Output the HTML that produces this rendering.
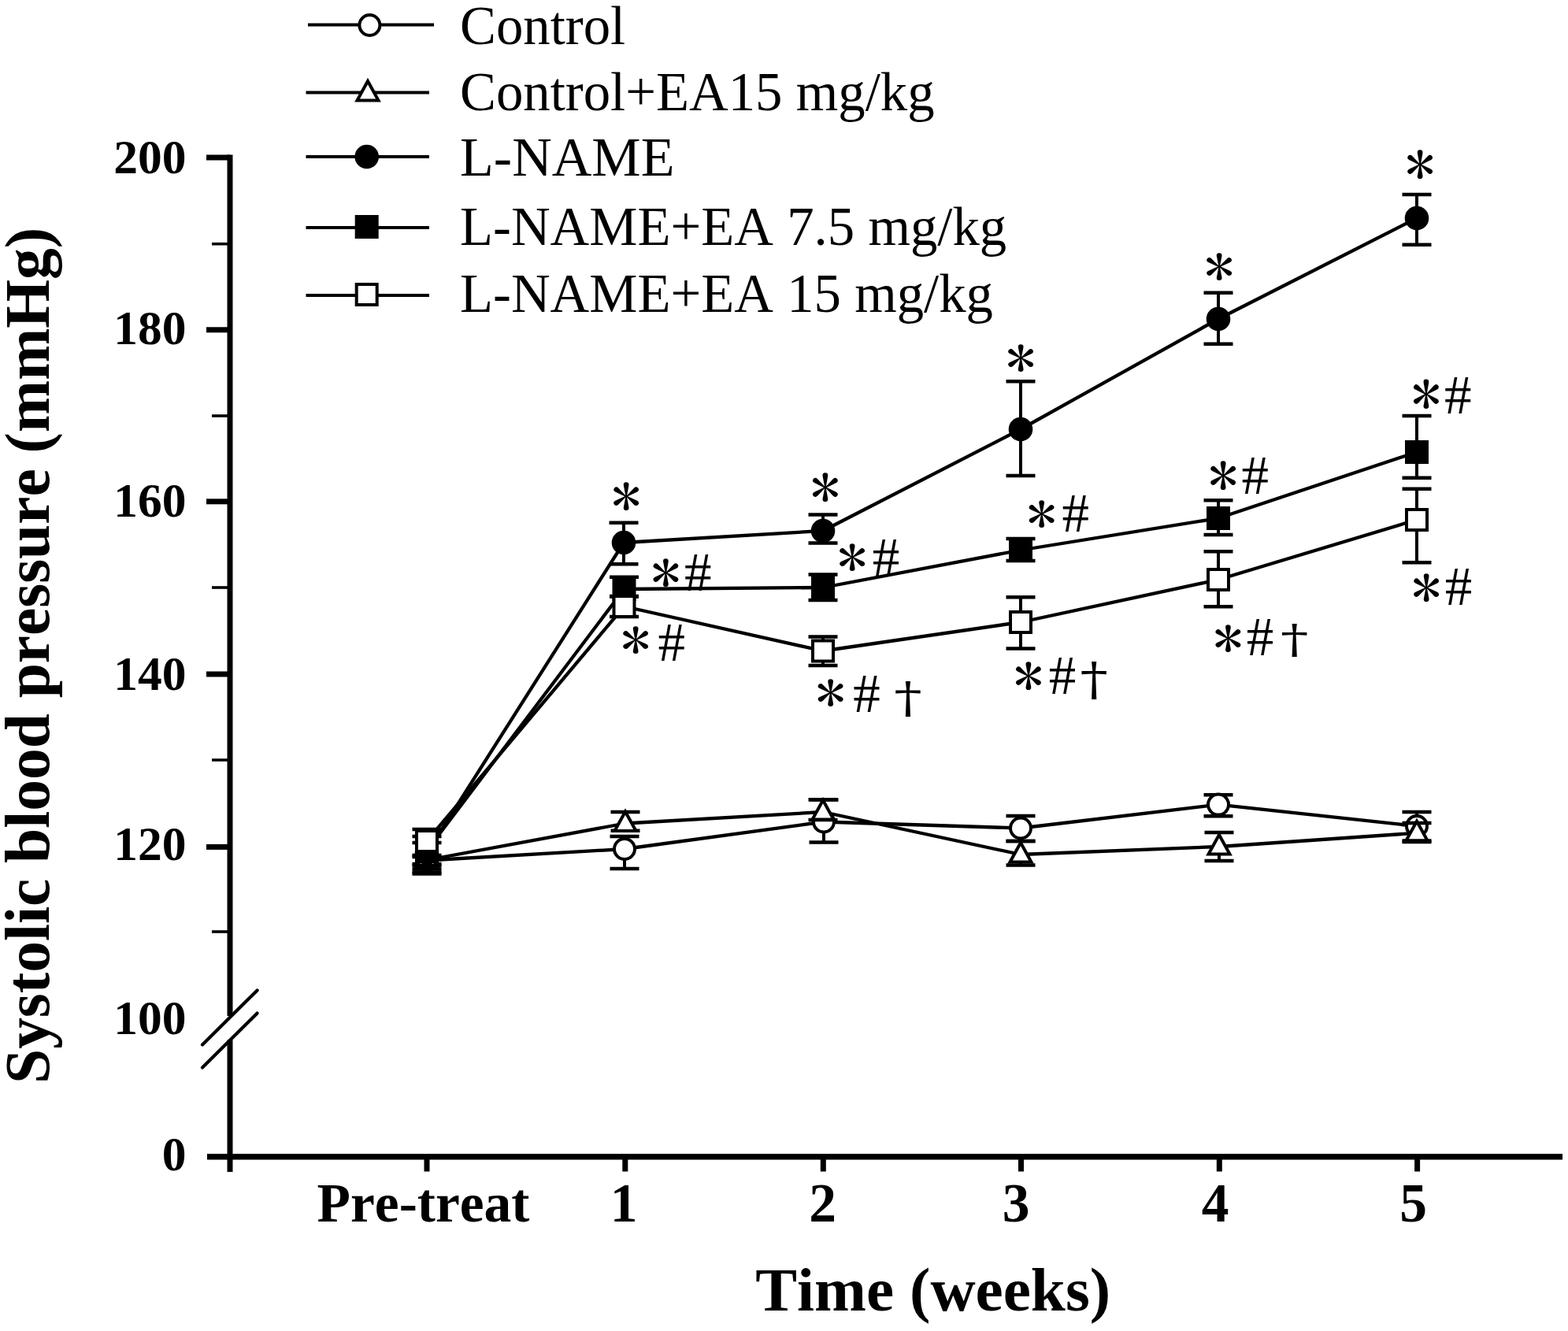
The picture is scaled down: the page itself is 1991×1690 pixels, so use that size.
<!DOCTYPE html>
<html><head><meta charset="utf-8"><title>Systolic blood pressure</title>
<style>
html,body{margin:0;padding:0;background:#fff;}
svg{display:block;}
text{font-family:"Liberation Serif","Times New Roman",serif;fill:#000;font-kerning:none;}
.b{font-weight:bold;}
.ast{font-family:"IPAGothic","Liberation Sans",sans-serif;}
.dag{font-family:"DejaVu Serif",serif;}
</style></head><body>
<svg width="1991" height="1690" viewBox="0 0 1991 1690">
<rect width="1991" height="1690" fill="#fff"/>

<g stroke="#000" fill="none">
<line x1="292" y1="196.5" x2="292" y2="1290" stroke-width="7"/>
<line x1="292" y1="1320.5" x2="292" y2="1488" stroke-width="7"/>
<line x1="263" y1="1468.8" x2="1984" y2="1468.8" stroke-width="7.5"/>
<line x1="257" y1="1326.6" x2="326.6" y2="1257.4" stroke-width="4.2" stroke-linecap="round"/>
<line x1="257" y1="1355.6" x2="326.6" y2="1286.4" stroke-width="4.2" stroke-linecap="round"/>
<line x1="262" y1="200" x2="292" y2="200" stroke-width="7"/>
<line x1="262" y1="418.8" x2="292" y2="418.8" stroke-width="7"/>
<line x1="262" y1="636.8" x2="292" y2="636.8" stroke-width="7"/>
<line x1="262" y1="856" x2="292" y2="856" stroke-width="7"/>
<line x1="262" y1="1075.4" x2="292" y2="1075.4" stroke-width="7"/>
<line x1="269" y1="309.7" x2="292" y2="309.7" stroke-width="3.6"/>
<line x1="269" y1="528" x2="292" y2="528" stroke-width="3.6"/>
<line x1="269" y1="746" x2="292" y2="746" stroke-width="3.6"/>
<line x1="269" y1="965" x2="292" y2="965" stroke-width="3.6"/>
<line x1="269" y1="1183" x2="292" y2="1183" stroke-width="3.6"/>
<line x1="542" y1="1468.8" x2="542" y2="1487.5" stroke-width="7"/>
<line x1="793.8" y1="1468.8" x2="793.8" y2="1487.5" stroke-width="7"/>
<line x1="1045.3" y1="1468.8" x2="1045.3" y2="1487.5" stroke-width="7"/>
<line x1="1296.5" y1="1468.8" x2="1296.5" y2="1487.5" stroke-width="7"/>
<line x1="1548.3" y1="1468.8" x2="1548.3" y2="1487.5" stroke-width="7"/>
<line x1="1799.6" y1="1468.8" x2="1799.6" y2="1487.5" stroke-width="7"/>
</g>
<g class="b" font-size="61.5" text-anchor="end">
<text x="236.5" y="219.5">200</text>
<text x="236.5" y="436.8">180</text>
<text x="236.5" y="656.3">160</text>
<text x="236.5" y="875.5">140</text>
<text x="236.5" y="1092.4">120</text>
<text x="236.5" y="1312.5">100</text>
<text x="236.5" y="1486">0</text>
</g>
<g class="b" font-size="69.5" text-anchor="middle">
<text x="537.5" y="1551.3">Pre-treat</text>
<text x="792" y="1551.3">1</text>
<text x="1044.5" y="1551.3">2</text>
<text x="1290" y="1551.3">3</text>
<text x="1543" y="1551.3">4</text>
<text x="1794.5" y="1551.3">5</text>
</g>
<text class="b" font-size="79.2" x="959.3" y="1663.5">Time (weeks)</text>
<text class="b" font-size="79.4" transform="translate(61.5,1376) rotate(-90)">Systolic blood pressure (mmHg)</text>
<polyline points="542,1092.5 793,1078 1046,1043.5 1296,1051.5 1547,1021.6 1799,1049" fill="none" stroke="#000" stroke-width="4.3" stroke-linejoin="round"/>
<polyline points="542,1092 794,1045.5 1045,1031 1296,1085 1548,1075 1799,1057.7" fill="none" stroke="#000" stroke-width="4.3" stroke-linejoin="round"/>
<polyline points="542,1083 792,689 1045,674 1296,545 1547,405 1799,277" fill="none" stroke="#000" stroke-width="4.3" stroke-linejoin="round"/>
<polyline points="542,1080 792.5,748 1045,746 1296,698.5 1547,658 1799,574" fill="none" stroke="#000" stroke-width="4.3" stroke-linejoin="round"/>
<polyline points="542,1068 792.5,770 1045,826.5 1296,790 1547,736 1799,660" fill="none" stroke="#000" stroke-width="4.3" stroke-linejoin="round"/>
<g>
<line x1="542" y1="1086" x2="542" y2="1109.5" stroke="#000" stroke-width="4"/><line x1="523.5" y1="1086" x2="560.5" y2="1086" stroke="#000" stroke-width="4.5"/><line x1="523.5" y1="1109.5" x2="560.5" y2="1109.5" stroke="#000" stroke-width="4.5"/>
<line x1="793" y1="1062" x2="793" y2="1103" stroke="#000" stroke-width="4"/><line x1="774.5" y1="1062" x2="811.5" y2="1062" stroke="#000" stroke-width="4.5"/><line x1="774.5" y1="1103" x2="811.5" y2="1103" stroke="#000" stroke-width="4.5"/>
<line x1="1046" y1="1015.5" x2="1046" y2="1069.6" stroke="#000" stroke-width="4"/><line x1="1027.5" y1="1015.5" x2="1064.5" y2="1015.5" stroke="#000" stroke-width="4.5"/><line x1="1027.5" y1="1069.6" x2="1064.5" y2="1069.6" stroke="#000" stroke-width="4.5"/>
<line x1="1296" y1="1035.9" x2="1296" y2="1067.9" stroke="#000" stroke-width="4"/><line x1="1277.5" y1="1035.9" x2="1314.5" y2="1035.9" stroke="#000" stroke-width="4.5"/><line x1="1277.5" y1="1067.9" x2="1314.5" y2="1067.9" stroke="#000" stroke-width="4.5"/>
<line x1="1547" y1="1009.2" x2="1547" y2="1036.2" stroke="#000" stroke-width="4"/><line x1="1528.5" y1="1009.2" x2="1565.5" y2="1009.2" stroke="#000" stroke-width="4.5"/><line x1="1528.5" y1="1036.2" x2="1565.5" y2="1036.2" stroke="#000" stroke-width="4.5"/>
<line x1="1799" y1="1031" x2="1799" y2="1067.5" stroke="#000" stroke-width="4"/><line x1="1780.5" y1="1031" x2="1817.5" y2="1031" stroke="#000" stroke-width="4.5"/><line x1="1780.5" y1="1067.5" x2="1817.5" y2="1067.5" stroke="#000" stroke-width="4.5"/>
<circle cx="542" cy="1092.5" r="13" fill="#fff" stroke="#000" stroke-width="4"/>
<circle cx="793" cy="1078" r="13" fill="#fff" stroke="#000" stroke-width="4"/>
<circle cx="1046" cy="1043.5" r="13" fill="#fff" stroke="#000" stroke-width="4"/>
<circle cx="1296" cy="1051.5" r="13" fill="#fff" stroke="#000" stroke-width="4"/>
<circle cx="1547" cy="1021.6" r="13" fill="#fff" stroke="#000" stroke-width="4"/>
<circle cx="1799" cy="1049" r="13" fill="#fff" stroke="#000" stroke-width="4"/>
</g>
<g>
<line x1="542" y1="1088" x2="542" y2="1097" stroke="#000" stroke-width="4"/><line x1="523.5" y1="1088" x2="560.5" y2="1088" stroke="#000" stroke-width="4.5"/><line x1="523.5" y1="1097" x2="560.5" y2="1097" stroke="#000" stroke-width="4.5"/>
<line x1="794" y1="1031" x2="794" y2="1054.7" stroke="#000" stroke-width="4"/><line x1="775.5" y1="1031" x2="812.5" y2="1031" stroke="#000" stroke-width="4.5"/><line x1="775.5" y1="1054.7" x2="812.5" y2="1054.7" stroke="#000" stroke-width="4.5"/>
<line x1="1045" y1="1015.3" x2="1045" y2="1041" stroke="#000" stroke-width="4"/><line x1="1026.5" y1="1015.3" x2="1063.5" y2="1015.3" stroke="#000" stroke-width="4.5"/><line x1="1026.5" y1="1041" x2="1063.5" y2="1041" stroke="#000" stroke-width="4.5"/>
<line x1="1296" y1="1068" x2="1296" y2="1098.5" stroke="#000" stroke-width="4"/><line x1="1277.5" y1="1068" x2="1314.5" y2="1068" stroke="#000" stroke-width="4.5"/><line x1="1277.5" y1="1098.5" x2="1314.5" y2="1098.5" stroke="#000" stroke-width="4.5"/>
<line x1="1548" y1="1057.1" x2="1548" y2="1093" stroke="#000" stroke-width="4"/><line x1="1529.5" y1="1057.1" x2="1566.5" y2="1057.1" stroke="#000" stroke-width="4.5"/><line x1="1529.5" y1="1093" x2="1566.5" y2="1093" stroke="#000" stroke-width="4.5"/>
<line x1="1799" y1="1045" x2="1799" y2="1069" stroke="#000" stroke-width="4"/><line x1="1780.5" y1="1045" x2="1817.5" y2="1045" stroke="#000" stroke-width="4.5"/><line x1="1780.5" y1="1069" x2="1817.5" y2="1069" stroke="#000" stroke-width="4.5"/>
<polygon points="542,1077 528.5,1101.5 555.5,1101.5" fill="#fff" stroke="#000" stroke-width="4" stroke-linejoin="miter" stroke-miterlimit="3"/>
<polygon points="794,1030.5 780.5,1055 807.5,1055" fill="#fff" stroke="#000" stroke-width="4" stroke-linejoin="miter" stroke-miterlimit="3"/>
<polygon points="1045,1016 1031.5,1040.5 1058.5,1040.5" fill="#fff" stroke="#000" stroke-width="4" stroke-linejoin="miter" stroke-miterlimit="3"/>
<polygon points="1296,1070 1282.5,1094.5 1309.5,1094.5" fill="#fff" stroke="#000" stroke-width="4" stroke-linejoin="miter" stroke-miterlimit="3"/>
<polygon points="1548,1060 1534.5,1084.5 1561.5,1084.5" fill="#fff" stroke="#000" stroke-width="4" stroke-linejoin="miter" stroke-miterlimit="3"/>
<polygon points="1799,1042.7 1785.5,1067.2 1812.5,1067.2" fill="#fff" stroke="#000" stroke-width="4" stroke-linejoin="miter" stroke-miterlimit="3"/>
</g>
<g>
<line x1="542" y1="1070" x2="542" y2="1099" stroke="#000" stroke-width="4"/><line x1="523.5" y1="1070" x2="560.5" y2="1070" stroke="#000" stroke-width="4.5"/><line x1="523.5" y1="1099" x2="560.5" y2="1099" stroke="#000" stroke-width="4.5"/>
<line x1="792" y1="663.8" x2="792" y2="716.2" stroke="#000" stroke-width="4"/><line x1="773.5" y1="663.8" x2="810.5" y2="663.8" stroke="#000" stroke-width="4.5"/><line x1="773.5" y1="716.2" x2="810.5" y2="716.2" stroke="#000" stroke-width="4.5"/>
<line x1="1045" y1="653.5" x2="1045" y2="689.6" stroke="#000" stroke-width="4"/><line x1="1026.5" y1="653.5" x2="1063.5" y2="653.5" stroke="#000" stroke-width="4.5"/><line x1="1026.5" y1="689.6" x2="1063.5" y2="689.6" stroke="#000" stroke-width="4.5"/>
<line x1="1296" y1="484.2" x2="1296" y2="603.9" stroke="#000" stroke-width="4"/><line x1="1277.5" y1="484.2" x2="1314.5" y2="484.2" stroke="#000" stroke-width="4.5"/><line x1="1277.5" y1="603.9" x2="1314.5" y2="603.9" stroke="#000" stroke-width="4.5"/>
<line x1="1547" y1="371.8" x2="1547" y2="436.8" stroke="#000" stroke-width="4"/><line x1="1528.5" y1="371.8" x2="1565.5" y2="371.8" stroke="#000" stroke-width="4.5"/><line x1="1528.5" y1="436.8" x2="1565.5" y2="436.8" stroke="#000" stroke-width="4.5"/>
<line x1="1799" y1="247" x2="1799" y2="310.7" stroke="#000" stroke-width="4"/><line x1="1780.5" y1="247" x2="1817.5" y2="247" stroke="#000" stroke-width="4.5"/><line x1="1780.5" y1="310.7" x2="1817.5" y2="310.7" stroke="#000" stroke-width="4.5"/>
<circle cx="542" cy="1083" r="15.3" fill="#000"/>
<circle cx="792" cy="689" r="15.3" fill="#000"/>
<circle cx="1045" cy="674" r="15.3" fill="#000"/>
<circle cx="1296" cy="545" r="15.3" fill="#000"/>
<circle cx="1547" cy="405" r="15.3" fill="#000"/>
<circle cx="1799" cy="277" r="15.3" fill="#000"/>
</g>
<g>
<line x1="542" y1="1062" x2="542" y2="1103.5" stroke="#000" stroke-width="4"/><line x1="523.5" y1="1062" x2="560.5" y2="1062" stroke="#000" stroke-width="4.5"/><line x1="523.5" y1="1103.5" x2="560.5" y2="1103.5" stroke="#000" stroke-width="4.5"/>
<line x1="792.5" y1="732.7" x2="792.5" y2="757.4" stroke="#000" stroke-width="4"/><line x1="774" y1="732.7" x2="811" y2="732.7" stroke="#000" stroke-width="4.5"/><line x1="774" y1="757.4" x2="811" y2="757.4" stroke="#000" stroke-width="4.5"/>
<line x1="1045" y1="729.6" x2="1045" y2="761.9" stroke="#000" stroke-width="4"/><line x1="1026.5" y1="729.6" x2="1063.5" y2="729.6" stroke="#000" stroke-width="4.5"/><line x1="1026.5" y1="761.9" x2="1063.5" y2="761.9" stroke="#000" stroke-width="4.5"/>
<line x1="1296" y1="684" x2="1296" y2="712" stroke="#000" stroke-width="4"/><line x1="1277.5" y1="684" x2="1314.5" y2="684" stroke="#000" stroke-width="4.5"/><line x1="1277.5" y1="712" x2="1314.5" y2="712" stroke="#000" stroke-width="4.5"/>
<line x1="1547" y1="635.2" x2="1547" y2="679.1" stroke="#000" stroke-width="4"/><line x1="1528.5" y1="635.2" x2="1565.5" y2="635.2" stroke="#000" stroke-width="4.5"/><line x1="1528.5" y1="679.1" x2="1565.5" y2="679.1" stroke="#000" stroke-width="4.5"/>
<line x1="1799" y1="528" x2="1799" y2="606.7" stroke="#000" stroke-width="4"/><line x1="1780.5" y1="528" x2="1817.5" y2="528" stroke="#000" stroke-width="4.5"/><line x1="1780.5" y1="606.7" x2="1817.5" y2="606.7" stroke="#000" stroke-width="4.5"/>
<rect x="527" y="1065" width="30" height="30" fill="#000"/>
<rect x="777.5" y="733" width="30" height="30" fill="#000"/>
<rect x="1030" y="731" width="30" height="30" fill="#000"/>
<rect x="1281" y="683.5" width="30" height="30" fill="#000"/>
<rect x="1532" y="643" width="30" height="30" fill="#000"/>
<rect x="1784" y="559" width="30" height="30" fill="#000"/>
</g>
<g>
<line x1="542" y1="1053" x2="542" y2="1107.5" stroke="#000" stroke-width="4"/><line x1="523.5" y1="1053" x2="560.5" y2="1053" stroke="#000" stroke-width="4.5"/><line x1="523.5" y1="1107.5" x2="560.5" y2="1107.5" stroke="#000" stroke-width="4.5"/>
<line x1="792.5" y1="757" x2="792.5" y2="783" stroke="#000" stroke-width="4"/><line x1="774" y1="757" x2="811" y2="757" stroke="#000" stroke-width="4.5"/><line x1="774" y1="783" x2="811" y2="783" stroke="#000" stroke-width="4.5"/>
<line x1="1045" y1="808.6" x2="1045" y2="845" stroke="#000" stroke-width="4"/><line x1="1026.5" y1="808.6" x2="1063.5" y2="808.6" stroke="#000" stroke-width="4.5"/><line x1="1026.5" y1="845" x2="1063.5" y2="845" stroke="#000" stroke-width="4.5"/>
<line x1="1296" y1="758.2" x2="1296" y2="823.6" stroke="#000" stroke-width="4"/><line x1="1277.5" y1="758.2" x2="1314.5" y2="758.2" stroke="#000" stroke-width="4.5"/><line x1="1277.5" y1="823.6" x2="1314.5" y2="823.6" stroke="#000" stroke-width="4.5"/>
<line x1="1547" y1="700.2" x2="1547" y2="770.2" stroke="#000" stroke-width="4"/><line x1="1528.5" y1="700.2" x2="1565.5" y2="700.2" stroke="#000" stroke-width="4.5"/><line x1="1528.5" y1="770.2" x2="1565.5" y2="770.2" stroke="#000" stroke-width="4.5"/>
<line x1="1799" y1="620.7" x2="1799" y2="714.2" stroke="#000" stroke-width="4"/><line x1="1780.5" y1="620.7" x2="1817.5" y2="620.7" stroke="#000" stroke-width="4.5"/><line x1="1780.5" y1="714.2" x2="1817.5" y2="714.2" stroke="#000" stroke-width="4.5"/>
<rect x="529" y="1055" width="26" height="26" fill="#fff" stroke="#000" stroke-width="4"/>
<rect x="779.5" y="757" width="26" height="26" fill="#fff" stroke="#000" stroke-width="4"/>
<rect x="1032" y="813.5" width="26" height="26" fill="#fff" stroke="#000" stroke-width="4"/>
<rect x="1283" y="777" width="26" height="26" fill="#fff" stroke="#000" stroke-width="4"/>
<rect x="1534" y="723" width="26" height="26" fill="#fff" stroke="#000" stroke-width="4"/>
<rect x="1786" y="647" width="26" height="26" fill="#fff" stroke="#000" stroke-width="4"/>
</g>
<g><text class="ast" font-size="72.2" transform="translate(776.2,656.5) scale(1.049,1)">*</text><text class="ast" font-size="70.8" transform="translate(826.6,753.8) scale(1.070,1)">*</text><text font-size="69" x="869" y="749.6">#</text><text class="ast" font-size="69.2" transform="translate(788.3,839) scale(1.095,1)">*</text><text font-size="69" x="835.4" y="839.1">#</text><text class="ast" font-size="72.4" transform="translate(1029,646.7) scale(1.046,1)">*</text><text class="ast" font-size="70.4" transform="translate(1063.2,734.4) scale(1.076,1)">*</text><text font-size="69" x="1107.8" y="730.5">#</text><text class="ast" font-size="70.2" transform="translate(1035.8,906.1) scale(1.079,1)">*</text><text font-size="69" x="1083.3" y="904.4">#</text><text class="dag" font-size="54.3" transform="translate(1135.3,905) scale(1.305,1)">&#8224;</text><text class="ast" font-size="68.8" transform="translate(1277.2,481) scale(1.101,1)">*</text><text class="ast" font-size="68.8" transform="translate(1303.7,678.5) scale(1.101,1)">*</text><text font-size="69" x="1348.4" y="674.7">#</text><text class="ast" font-size="71.4" transform="translate(1287,884.7) scale(1.061,1)">*</text><text font-size="69" x="1331.8" y="880.5">#</text><text class="dag" font-size="58.7" transform="translate(1371.4,881.9) scale(1.205,1)">&#8224;</text><text class="ast" font-size="70.2" transform="translate(1529.2,365) scale(1.079,1)">*</text><text class="ast" font-size="73.6" transform="translate(1534.2,632.2) scale(1.029,1)">*</text><text font-size="69" x="1576.4" y="626.9">#</text><text class="ast" font-size="70" transform="translate(1540.6,836.5) scale(1.082,1)">*</text><text font-size="69" x="1582.8" y="831.9">#</text><text class="dag" font-size="51.1" transform="translate(1626.1,828.6) scale(1.385,1)">&#8224;</text><text class="ast" font-size="73.8" transform="translate(1784.2,237.3) scale(1.026,1)">*</text><text class="ast" font-size="75" transform="translate(1791.9,529) scale(1.010,1)">*</text><text font-size="69" x="1834.1" y="524.6">#</text><text class="ast" font-size="71.8" transform="translate(1792.2,773) scale(1.055,1)">*</text><text font-size="69" x="1834.7" y="767.9">#</text></g>
<line x1="391" y1="31.5" x2="551" y2="31.5" stroke="#000" stroke-width="4"/>
<circle cx="469.4" cy="32" r="13" fill="#fff" stroke="#000" stroke-width="4"/>
<text font-size="68.8" x="584" y="56.2">Control</text>
<line x1="388.5" y1="117.5" x2="545" y2="117.5" stroke="#000" stroke-width="4"/>
<polygon points="467,103 453.5,127.5 480.5,127.5" fill="#fff" stroke="#000" stroke-width="4" stroke-linejoin="miter" stroke-miterlimit="3"/>
<text font-size="68.8" x="584" y="140">Control+EA15 mg/kg</text>
<line x1="388.5" y1="199" x2="545" y2="199" stroke="#000" stroke-width="4"/>
<circle cx="465.7" cy="199" r="15.3" fill="#000"/>
<text font-size="68.8" x="584" y="223" textLength="272.5" lengthAdjust="spacingAndGlyphs">L-NAME</text>
<line x1="388.5" y1="289" x2="545" y2="289" stroke="#000" stroke-width="4"/>
<rect x="450.7" y="273" width="30" height="30" fill="#000"/>
<text font-size="68.8" x="584" y="311.3">L-NAME+EA 7.5 mg/kg</text>
<line x1="388.5" y1="375" x2="545" y2="375" stroke="#000" stroke-width="4"/>
<rect x="452.7" y="361" width="26" height="26" fill="#fff" stroke="#000" stroke-width="4"/>
<text font-size="68.8" x="584" y="396">L-NAME+EA 15 mg/kg</text>
</svg>
</body></html>
